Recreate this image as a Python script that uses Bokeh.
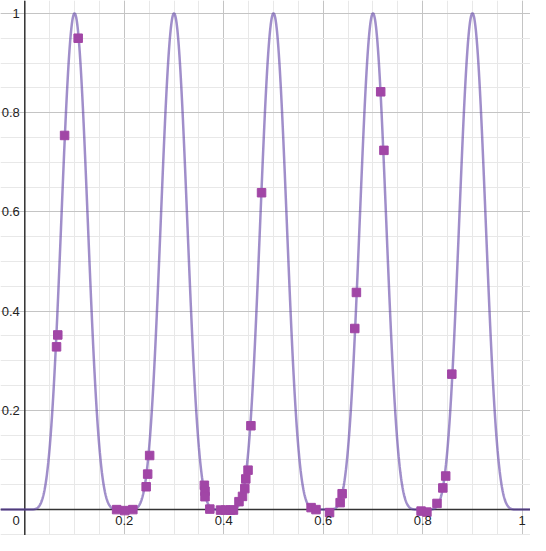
import numpy as np
from bokeh.plotting import figure
from bokeh.models import SingleIntervalTicker, Span, Range1d
from bokeh.core.properties import value
from bokeh.embed import file_html
from bokeh.resources import INLINE

# ---- data ----
point_x = [0.0638, 0.0663, 0.080, 0.1073,
           0.1846, 0.2010, 0.2172,
           0.2440, 0.2470, 0.2510,
           0.3610, 0.3623, 0.3623, 0.3720,
           0.3935, 0.4033, 0.4131, 0.4195,
           0.4306, 0.4377, 0.4423, 0.4443, 0.4488, 0.4546, 0.4760,
           0.5756, 0.5854, 0.6127, 0.6340, 0.6380,
           0.6634, 0.6667, 0.7155, 0.7220,
           0.7967, 0.8084, 0.8287, 0.8404, 0.8462, 0.8585]
point_y = [0.328, 0.352, 0.754, 0.950,
           0.000, -0.002, 0.000,
           0.046, 0.0715, 0.109,
           0.049, 0.037, 0.026, 0.001,
           -0.001, -0.001, -0.001, -0.001,
           0.016, 0.0266, 0.0423, 0.0618, 0.0795, 0.169, 0.6386,
           0.004, 0.000, -0.006, 0.014, 0.032,
           0.365, 0.4376, 0.842, 0.724,
           -0.003, -0.005, 0.0124, 0.0436, 0.0677, 0.273]

# function drawn as the curve: y = sin(FREQ * pi * x) ** POWER for x >= 0, else 0
FREQ = 5
POWER = 6

x_ticks = [0.2, 0.4, 0.6, 0.8, 1]
x_tick_labels = ["0.2", "0.4", "0.6", "0.8", "1"]
y_ticks = [0.2, 0.4, 0.6, 0.8, 1]
y_tick_labels = ["0.2", "0.4", "0.6", "0.8", "1"]

W, H = 530, 535
sx = 497.4
sy = 496.2
x0 = -24.3 / sx
x1 = x0 + W / sx
y1 = 1 + 12.9 / sy
y0 = y1 - H / sy

p = figure(width=W, height=H, output_backend="svg", toolbar_location=None,
           x_range=Range1d(x0, x1), y_range=Range1d(y0, y1),
           x_axis_location=None, y_axis_location=None,
           min_border=0, outline_line_color=None)

for g in (p.xgrid, p.ygrid):
    g.ticker = SingleIntervalTicker(interval=0.2, num_minor_ticks=4)
    g.grid_line_color = "#c4c4c4"
    g.grid_line_width = 1
    g.minor_grid_line_color = "#e8e8e8"
    g.minor_grid_line_width = 1

p.add_layout(Span(location=0, dimension="width", line_color="#333333",
                  line_width=1.5, level="underlay"))
p.add_layout(Span(location=0, dimension="height", line_color="#333333",
                  line_width=1.5, level="underlay"))

cx = np.linspace(x0, x1, 1500)
cy = np.where(cx < 0, 0.0, np.sin(FREQ * np.pi * cx) ** POWER)
p.line(cx, cy, line_color="#6042a6", line_alpha=0.6, line_width=2.5)

p.scatter(point_x, point_y, marker="square", size=8.5,
          fill_color="#a146a6", line_color="#a146a6")

font = value("Liberation Sans")
p.text(x=x_ticks, y=[0] * len(x_ticks), text=x_tick_labels, text_font=font,
       text_font_size="13px", text_color="#222222", text_align="center",
       text_baseline="top", y_offset=6)
p.text(x=[0] * len(y_ticks), y=y_ticks, text=y_tick_labels, text_font=font,
       text_font_size="13px", text_color="#222222", text_align="right",
       text_baseline="middle", x_offset=-5)
p.text(x=[0], y=[0], text=["0"], text_font=font, text_font_size="13px",
       text_color="#222222", text_align="right", text_baseline="top",
       x_offset=-5, y_offset=6)

open("out.html", "w").write(file_html(p, INLINE))
